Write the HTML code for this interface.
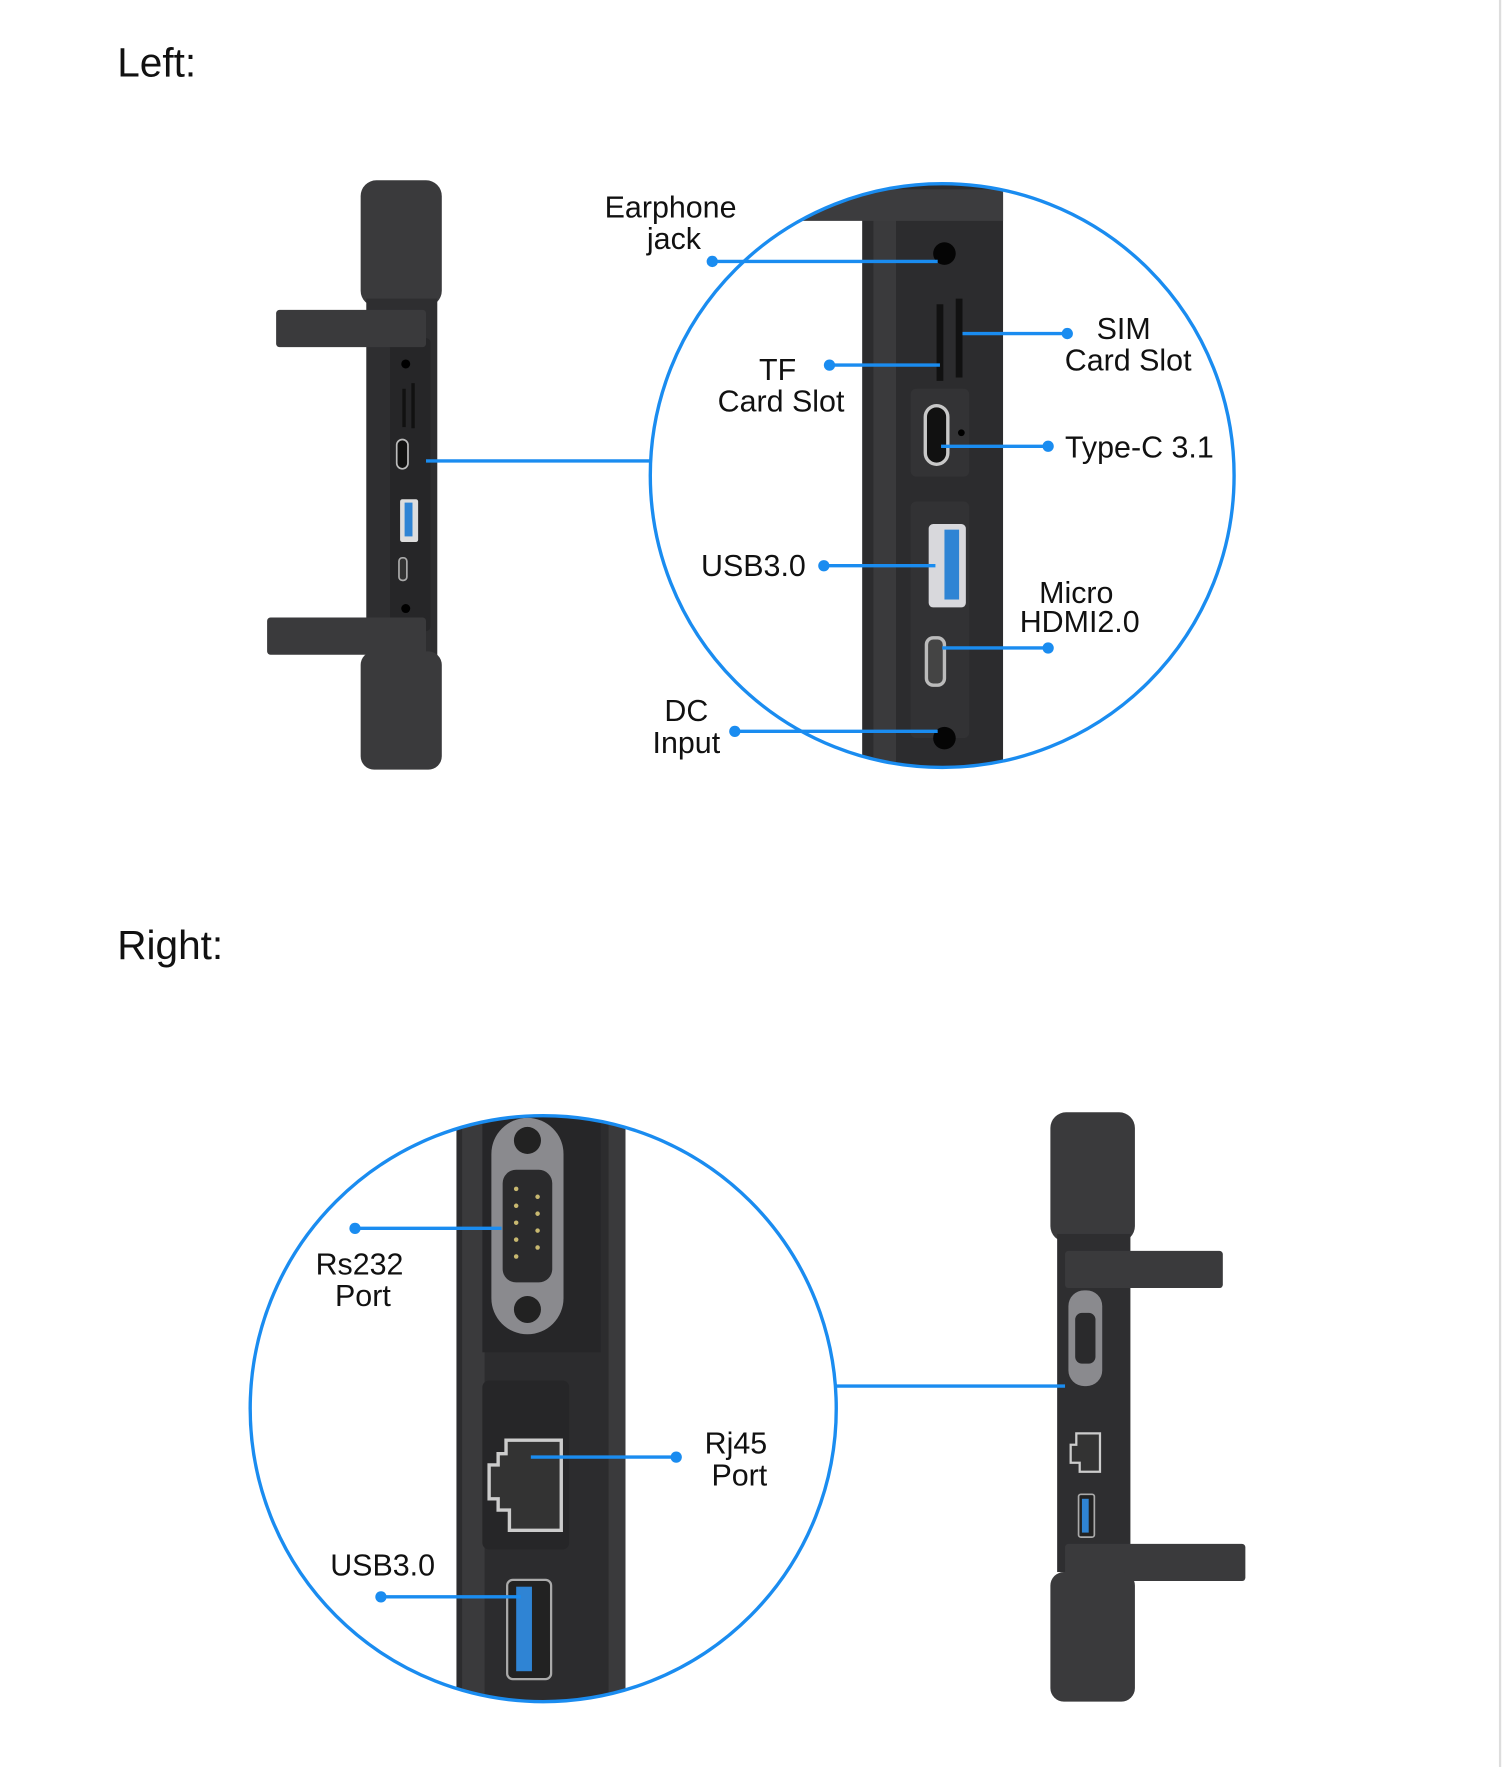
<!DOCTYPE html>
<html><head><meta charset="utf-8"><style>
html,body{margin:0;padding:0;background:#fff;}
svg{display:block;}
text{font-family:"Liberation Sans",sans-serif;fill:#111;}
</style></head><body>
<svg width="1503" height="1767" viewBox="0 0 1333.6 1568" preserveAspectRatio="none" xmlns="http://www.w3.org/2000/svg">
<defs>
<clipPath id="c1"><circle cx="836" cy="422" r="259"/></clipPath>
<clipPath id="c2"><circle cx="482" cy="1250" r="260"/></clipPath>
</defs>
<line x1="1331" y1="0" x2="1331" y2="1568" stroke="#ddd" stroke-width="2"/>
<text x="104" y="68" font-size="36">Left:</text>
<text x="104" y="851" font-size="36">Right:</text>

<!-- Left small device -->
<g>
<rect x="320" y="160" width="72" height="112" rx="14" fill="#3a3a3c"/>
<rect x="325" y="265" width="63" height="320" fill="#2e2e30"/>
<rect x="346" y="300" width="36" height="260" rx="4" fill="#262628"/>
<rect x="245" y="275" width="133" height="33" rx="3" fill="#3a3a3c"/>
<rect x="237" y="548" width="141" height="33" rx="3" fill="#3a3a3c"/>
<rect x="320" y="578" width="72" height="105" rx="12" fill="#3a3a3c"/>
<circle cx="360" cy="323" r="4" fill="#000"/>
<rect x="357" y="345" width="3" height="34" fill="#111"/><rect x="365" y="340" width="3" height="40" fill="#111"/>
<rect x="352" y="390" width="10" height="26" rx="5" fill="#111" stroke="#bbb" stroke-width="1.5"/>
<rect x="355" y="443" width="16" height="38" rx="2" fill="#ddd"/><rect x="359" y="446" width="7" height="30" fill="#2f84d4"/>
<rect x="354" y="495" width="7" height="20" rx="3" fill="#333" stroke="#aaa" stroke-width="1.5"/>
<circle cx="360" cy="540" r="4" fill="#000"/>
</g>
<line x1="378" y1="409" x2="578" y2="409" stroke="#1a8cf0" stroke-width="3"/>

<!-- Left zoom circle -->
<g clip-path="url(#c1)">
<rect x="765" y="160" width="125" height="540" fill="#2c2c2e"/>
<rect x="775" y="195" width="20" height="500" fill="#3a3a3c"/>
<rect x="700" y="168" width="190" height="28" fill="#3c3c3e"/>
<rect x="808" y="345" width="52" height="78" rx="5" fill="#333335"/>
<rect x="808" y="445" width="52" height="210" rx="5" fill="#323234"/>
<circle cx="838" cy="225" r="10" fill="#050505"/>
<rect x="831" y="270" width="6" height="68" fill="#111"/>
<rect x="848" y="265" width="6" height="70" fill="#111"/>
<rect x="821" y="360" width="20" height="52" rx="10" fill="#111" stroke="#c8c8c8" stroke-width="3"/>
<circle cx="853" cy="384" r="3" fill="#000"/>
<rect x="824" y="465" width="33" height="74" rx="4" fill="#d8d8dc"/>
<rect x="838" y="470" width="13" height="62" fill="#2f84d4"/>
<rect x="822" y="566" width="16" height="42" rx="6" fill="#444" stroke="#bbb" stroke-width="3"/>
<circle cx="838" cy="655" r="10" fill="#050505"/>
</g>
<circle cx="836" cy="422" r="259" fill="none" stroke="#1a8cf0" stroke-width="3"/>

<g stroke="#1a8cf0" stroke-width="3" fill="#1a8cf0">
<line x1="632" y1="232" x2="832" y2="232"/><circle cx="632" cy="232" r="5" stroke="none"/>
<line x1="854" y1="296" x2="947" y2="296"/><circle cx="947" cy="296" r="5" stroke="none"/>
<line x1="736" y1="324" x2="834" y2="324"/><circle cx="736" cy="324" r="5" stroke="none"/>
<line x1="835" y1="396" x2="930" y2="396"/><circle cx="930" cy="396" r="5" stroke="none"/>
<line x1="731" y1="502" x2="830" y2="502"/><circle cx="731" cy="502" r="5" stroke="none"/>
<line x1="836" y1="575" x2="930" y2="575"/><circle cx="930" cy="575" r="5" stroke="none"/>
<line x1="652" y1="649" x2="832" y2="649"/><circle cx="652" cy="649" r="5" stroke="none"/>
</g>
<g font-size="27">
<text x="595" y="193" text-anchor="middle">Earphone</text>
<text x="598" y="221" text-anchor="middle">jack</text>
<text x="997" y="301" text-anchor="middle">SIM</text>
<text x="1001" y="329" text-anchor="middle">Card Slot</text>
<text x="690" y="337" text-anchor="middle">TF</text>
<text x="693" y="365" text-anchor="middle">Card Slot</text>
<text x="945" y="406">Type-C 3.1</text>
<text x="622" y="511">USB3.0</text>
<text x="955" y="535" text-anchor="middle">Micro</text>
<text x="958" y="561" text-anchor="middle">HDMI2.0</text>
<text x="609" y="640" text-anchor="middle">DC</text>
<text x="609" y="668" text-anchor="middle">Input</text>
</g>

<!-- Right zoom circle -->
<g clip-path="url(#c2)">
<rect x="405" y="985" width="150" height="530" fill="#2c2c2e"/>
<rect x="410" y="985" width="20" height="530" fill="#3a3a3c"/>
<rect x="540" y="985" width="15" height="530" fill="#3a3a3c"/>
<rect x="428" y="985" width="105" height="215" fill="#262628"/>
<rect x="428" y="1225" width="77" height="150" rx="6" fill="#262628"/>
<rect x="436" y="992" width="64" height="192" rx="32" fill="#8a8a8e"/>
<circle cx="468" cy="1012" r="12" fill="#222"/>
<circle cx="468" cy="1162" r="12" fill="#222"/>
<rect x="446" y="1038" width="44" height="100" rx="12" fill="#2a2a2c"/>
<g fill="#c8b870"><circle cx="458" cy="1055" r="2"/><circle cx="458" cy="1070" r="2"/><circle cx="458" cy="1085" r="2"/><circle cx="458" cy="1100" r="2"/><circle cx="458" cy="1115" r="2"/><circle cx="477" cy="1062" r="2"/><circle cx="477" cy="1077" r="2"/><circle cx="477" cy="1092" r="2"/><circle cx="477" cy="1107" r="2"/></g>
<path d="M449 1278 H498 V1358 H452 V1340 H442 V1330 H434 V1300 H442 V1290 H449 Z" fill="#333" stroke="#ccc" stroke-width="3"/>
<rect x="450" y="1402" width="39" height="88" rx="5" fill="#222" stroke="#aaa" stroke-width="2"/>
<rect x="458" y="1408" width="14" height="75" fill="#2f84d4"/>
</g>
<circle cx="482" cy="1250" r="260" fill="none" stroke="#1a8cf0" stroke-width="3"/>

<!-- Right small device -->
<g>
<rect x="932" y="987" width="75" height="115" rx="14" fill="#3a3a3c"/>
<rect x="938" y="1095" width="65" height="300" fill="#2e2e30"/>
<rect x="945" y="1110" width="140" height="33" rx="3" fill="#3a3a3c"/>
<rect x="945" y="1370" width="160" height="33" rx="3" fill="#3a3a3c"/>
<rect x="932" y="1395" width="75" height="115" rx="12" fill="#3a3a3c"/>
<rect x="948" y="1145" width="30" height="85" rx="14" fill="#8a8a8e"/>
<rect x="954" y="1165" width="18" height="45" rx="6" fill="#2a2a2c"/>
<path d="M955 1272 H976 V1306 H958 V1298 H950 V1282 H955 Z" fill="#333" stroke="#ccc" stroke-width="2"/>
<rect x="957" y="1326" width="14" height="38" rx="2" fill="#222" stroke="#aaa" stroke-width="1.5"/>
<rect x="960" y="1330" width="6" height="30" fill="#2f84d4"/>
</g>
<line x1="742" y1="1230" x2="945" y2="1230" stroke="#1a8cf0" stroke-width="3"/>

<g stroke="#1a8cf0" stroke-width="3" fill="#1a8cf0">
<line x1="315" y1="1090" x2="445" y2="1090"/><circle cx="315" cy="1090" r="5" stroke="none"/>
<line x1="471" y1="1293" x2="600" y2="1293"/><circle cx="600" cy="1293" r="5" stroke="none"/>
<line x1="338" y1="1417" x2="462" y2="1417"/><circle cx="338" cy="1417" r="5" stroke="none"/>
</g>
<g font-size="27">
<text x="319" y="1131" text-anchor="middle">Rs232</text>
<text x="322" y="1159" text-anchor="middle">Port</text>
<text x="653" y="1290" text-anchor="middle">Rj45</text>
<text x="656" y="1318" text-anchor="middle">Port</text>
<text x="293" y="1398">USB3.0</text>
</g>
</svg>
</body></html>
